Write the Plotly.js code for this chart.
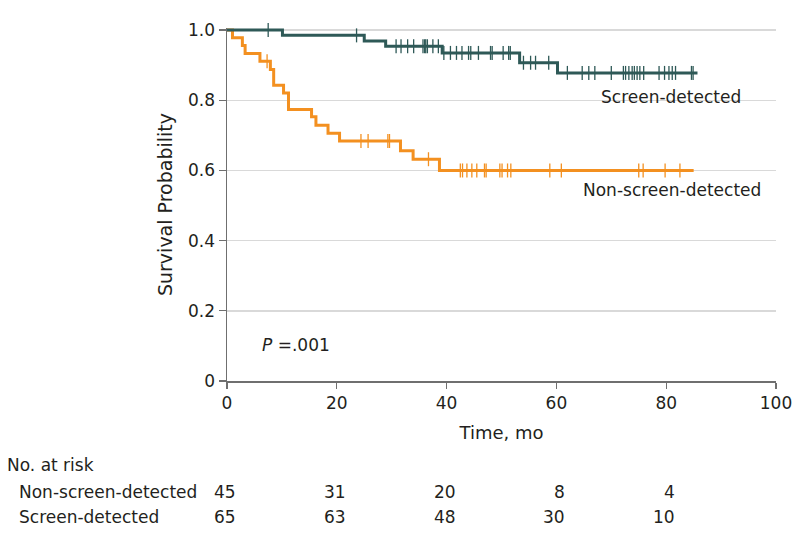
<!DOCTYPE html>
<html>
<head>
<meta charset="utf-8">
<script src="https://cdn.plot.ly/plotly-3.0.1.min.js"></script>
<style>html,body{margin:0;padding:0;background:#fff;}#chart{width:798px;height:546px;}</style>
</head>
<body>
<div id="chart"></div>
<script>
// ---- Data ----
const nonScreenStepTime = [0, 1.0, 2.8, 3.3, 6.0, 7.9, 8.5, 10.3, 11.2, 15.4, 16.2, 18.4, 20.5, 31.6, 33.9, 38.7, 85.0];
const nonScreenStepSurv = [1.0, 0.978, 0.956, 0.933, 0.911, 0.888, 0.843, 0.821, 0.774, 0.753, 0.729, 0.706, 0.684, 0.656, 0.632, 0.600, 0.600];
const nonScreenCensor = [7.3, 24.4, 25.7, 29.3, 29.6, 36.7, 42.5, 42.9, 43.7, 44.6, 45.5, 46.9, 47.2, 49.7, 50.1, 51.1, 51.7, 58.8, 60.9, 75.0, 75.8, 79.8, 82.5];

const screenStepTime = [0, 10.1, 25.0, 28.9, 39.2, 53.3, 60.2, 85.7];
const screenStepSurv = [1.0, 0.985, 0.969, 0.954, 0.935, 0.907, 0.878, 0.878];
const screenCensor = [7.5, 23.6, 30.8, 31.7, 32.9, 34.0, 35.7, 36.0, 36.2, 36.5, 37.5, 38.5, 39.5, 40.7, 41.8, 42.8, 44.0, 44.4, 45.8, 48.0, 48.3, 50.3, 51.3, 51.6, 54.0, 55.3, 56.2, 58.6, 62.0, 64.7, 65.9, 67.0, 70.0, 72.2, 72.6, 73.2, 73.8, 74.2, 74.7, 75.2, 75.9, 78.7, 79.7, 80.5, 81.1, 81.7, 84.6, 84.9];

const riskTimes = [0, 20, 40, 60, 80];
const riskNonScreen = [45, 31, 20, 8, 4];
const riskScreen = [65, 63, 48, 30, 10];

const groupNames = ['Non-screen-detected', 'Screen-detected'];
const xTickVals = [0, 20, 40, 60, 80, 100];
const yTickVals = [0, 0.2, 0.4, 0.6, 0.8, 1.0];
const yTickText = ['0', '0.2', '0.4', '0.6', '0.8', '1.0'];
const pValueText = '<i>P</i> =.001';

// ---- Styling ----
const ORANGE = '#F39020';
const GREEN = '#2E5957';
const FONT = 'DejaVu Sans, sans-serif';
const TXT = '#231F20';

function survAt(times, survs, t) {
  let s = survs[0];
  for (let i = 0; i < times.length; i++) { if (times[i] <= t) s = survs[i]; }
  return s;
}

const traces = [
  {x: nonScreenStepTime, y: nonScreenStepSurv, type: 'scatter', mode: 'lines',
   line: {shape: 'hv', color: ORANGE, width: 3}, name: groupNames[0], hoverinfo: 'skip'},
  {x: nonScreenCensor, y: nonScreenCensor.map(t => survAt(nonScreenStepTime, nonScreenStepSurv, t)),
   type: 'scatter', mode: 'markers', cliponaxis: false,
   marker: {symbol: 'line-ns', size: 10, line: {color: ORANGE, width: 1.3}}, hoverinfo: 'skip'},
  {x: screenStepTime, y: screenStepSurv, type: 'scatter', mode: 'lines',
   line: {shape: 'hv', color: GREEN, width: 3}, name: groupNames[1], hoverinfo: 'skip'},
  {x: screenCensor, y: screenCensor.map(t => survAt(screenStepTime, screenStepSurv, t)),
   type: 'scatter', mode: 'markers', cliponaxis: false,
   marker: {symbol: 'line-ns', size: 10, line: {color: GREEN, width: 1.3}}, hoverinfo: 'skip'}
];

const f = {family: FONT, size: 17, color: TXT};
const annotations = [
  {xref: 'x', yref: 'y', x: 67.8, y: 0.81, text: groupNames[1], showarrow: false, xanchor: 'left', yanchor: 'middle', font: f},
  {xref: 'x', yref: 'y', x: 64.4, y: 0.544, text: groupNames[0], showarrow: false, xanchor: 'left', yanchor: 'middle', font: f},
  {xref: 'x', yref: 'y', x: 6.1, y: 0.103, text: pValueText, showarrow: false, xanchor: 'left', yanchor: 'middle', font: f},
  {xref: 'paper', yref: 'paper', x: 0, y: 0, xshift: -222, yshift: -84, text: 'No. at risk', showarrow: false, xanchor: 'left', yanchor: 'middle', font: f},
  {xref: 'paper', yref: 'paper', x: 0, y: 0, xshift: -210, yshift: -111, text: groupNames[0], showarrow: false, xanchor: 'left', yanchor: 'middle', font: f},
  {xref: 'paper', yref: 'paper', x: 0, y: 0, xshift: -210, yshift: -136, text: groupNames[1], showarrow: false, xanchor: 'left', yanchor: 'middle', font: f}
];
riskTimes.forEach((t, i) => {
  annotations.push({xref: 'x', yref: 'paper', x: t, y: 0, xshift: 11, yshift: -111, text: String(riskNonScreen[i]), showarrow: false, xanchor: 'right', yanchor: 'middle', font: f});
  annotations.push({xref: 'x', yref: 'paper', x: t, y: 0, xshift: 11, yshift: -136, text: String(riskScreen[i]), showarrow: false, xanchor: 'right', yanchor: 'middle', font: f});
});

const layout = {
  width: 798, height: 546,
  margin: {l: 227, r: 22, t: 28, b: 165},
  paper_bgcolor: '#fff', plot_bgcolor: '#fff',
  showlegend: false,
  font: f,
  xaxis: {
    range: [0, 100], tickvals: xTickVals, ticks: 'outside', ticklen: 6, tickwidth: 1.3, tickcolor: '#6F6F6F',
    showline: true, linecolor: '#6F6F6F', linewidth: 1.5, showgrid: false, zeroline: false,
    tickfont: f, title: {text: 'Time, mo', font: {family: FONT, size: 18, color: TXT}, standoff: 14}, fixedrange: true
  },
  yaxis: {
    range: [0, 1.006], tickvals: yTickVals, ticktext: yTickText, ticks: 'outside', ticklen: 7, tickwidth: 1.3, tickcolor: '#6F6F6F',
    showline: true, linecolor: '#6F6F6F', linewidth: 1.5, showgrid: true, gridcolor: '#D9D9D9', gridwidth: 1.5, zeroline: false,
    tickfont: f, title: {text: 'Survival Probability', font: {family: FONT, size: 19, color: TXT}, standoff: 10}, fixedrange: true
  },
  annotations: annotations
};

Plotly.newPlot('chart', traces, layout, {staticPlot: true, displayModeBar: false});
</script>
</body>
</html>
